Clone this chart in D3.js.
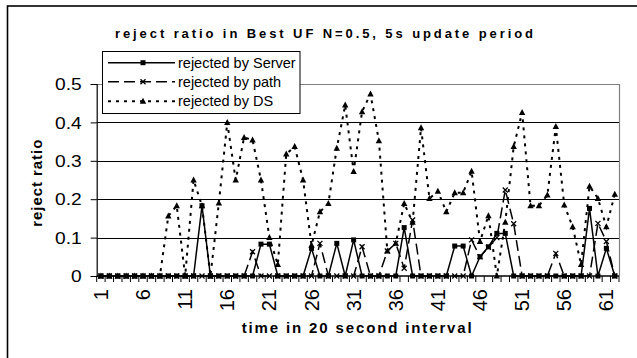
<!DOCTYPE html>
<html>
<head>
<meta charset="utf-8">
<script src="https://cdn.jsdelivr.net/npm/d3@7"></script>
<style>
  html, body { margin: 0; padding: 0; background: #fff; }
  svg { display: block; font-family: "Liberation Sans", Arial, sans-serif; }
</style>
</head>
<body>
<svg id="chart" width="637" height="358"></svg>
<script>
// ---- data ----
const categories = [1,2,3,4,5,6,7,8,9,10,11,12,13,14,15,16,17,18,19,20,21,22,23,24,25,26,27,28,29,30,31,32,33,34,35,36,37,38,39,40,41,42,43,44,45,46,47,48,49,50,51,52,53,54,55,56,57,58,59,60,61,62];
const xTickLabels = [1,6,11,16,21,26,31,36,41,46,51,56,61];
const yTicks = [0, 0.1, 0.2, 0.3, 0.4, 0.5];
const seriesNames = ["rejected by Server", "rejected by path", "rejected by DS"];
const server = [0,0,0,0,0,0,0,0,0,0,0,0,0.183,0,0,0,0,0,0,0.083,0.083,0,0,0,0,0.072,0,0,0.085,0,0.094,0,0,0,0,0,0.126,0,0,0,0,0,0.078,0.078,0,0.05,0.076,0.111,0.111,0,0,0,0,0,0,0,0,0,0.176,0,0.072,0];
const path = [0,0,0,0,0,0,0,0,0,0,0,0,0,0,0,0,0,0,0.063,0,0,0,0,0,0,0,0.085,0,0,0,0,0.076,0,0,0.065,0.085,0.02,0.146,0,0,0,0,0,0,0.094,0.05,0.075,0.10,0.224,0.136,0,0,0,0,0.059,0,0,0,0,0.137,0.09,0];
const ds = [0,0,0,0,0,0,0,0,0.156,0.183,0,0.25,0.183,0,0.19,0.40,0.25,0.361,0.354,0.25,0.10,0.03,0.318,0.337,0.25,0.08,0.167,0.189,0.333,0.445,0.272,0.428,0.474,0.352,0.065,0.085,0.189,0.14,0.386,0.202,0.221,0.167,0.217,0.217,0.273,0.09,0.157,0,0.14,0.337,0.426,0.183,0.183,0.211,0.389,0.185,0.128,0.03,0.234,0.202,0.128,0.213];

const titleText = "reject ratio in Best UF N=0.5, 5s update period";
const xTitle = "time in 20 second interval";
const yTitle = "reject ratio";

// ---- layout ----
const svg = d3.select("#chart");
const plot = { left: 96.7, right: 619, top: 84, bottom: 276 };

const x = d3.scaleBand().domain(categories).range([plot.left, plot.right]).padding(0);
const y = d3.scaleLinear().domain([0, 0.5]).range([plot.bottom, plot.top]);
const cx = d => x(d) + x.bandwidth() / 2;

// outer frame
svg.append("rect").attr("x", 7.5).attr("y", 6).attr("width", 700).attr("height", 400)
  .attr("fill", "#fff").attr("stroke", "#000").attr("stroke-width", 1.6);

// title
svg.append("text").attr("x", 115).attr("y", 38)
  .attr("font-size", 13).attr("font-weight", "bold")
  .attr("textLength", 418).attr("lengthAdjust", "spacing")
  .text(titleText);

// gridlines
svg.append("g").selectAll("line").data(yTicks.filter(t => t > 0 && t < 0.5)).join("line")
  .attr("x1", plot.left).attr("x2", plot.right)
  .attr("y1", d => Math.round(y(d)) + 0.5).attr("y2", d => Math.round(y(d)) + 0.5)
  .attr("stroke", "#000").attr("stroke-width", 1);

// plot border top/right (gray)
svg.append("path")
  .attr("d", `M${plot.left},${plot.top + 0.5}H${plot.right + 0.5}V${plot.bottom}`)
  .attr("fill", "none").attr("stroke", "#808080").attr("stroke-width", 1.2);

// y axis
const yAxis = d3.axisLeft(y).tickValues(yTicks).tickSize(6).tickFormat(d => d === 0 ? "0" : d3.format(".1f")(d));
const gy = svg.append("g").attr("transform", `translate(${plot.left},0)`).call(yAxis);
gy.select(".domain").attr("stroke", "#000").attr("stroke-width", 1.2);
gy.selectAll(".tick line").attr("stroke", "#000");
gy.selectAll(".tick text").remove();
gy.selectAll(".tick").append("text")
  .attr("transform", "translate(-15,5.7) scale(1.2,1)")
  .attr("text-anchor", "end").attr("fill", "#000")
  .attr("font-size", 16).attr("font-family", "Liberation Sans, Arial, sans-serif")
  .text(d => d === 0 ? "0" : d3.format(".1f")(d));

// x axis: ticks between categories
const gx = svg.append("g");
gx.append("line").attr("x1", plot.left).attr("x2", plot.right)
  .attr("y1", plot.bottom).attr("y2", plot.bottom)
  .attr("stroke", "#000").attr("stroke-width", 1.4);
const boundaries = categories.map(c => x(c)).concat([x(categories[categories.length - 1]) + x.bandwidth()]);
gx.selectAll("line.tk").data(boundaries).join("line").attr("class", "tk")
  .attr("x1", d => d).attr("x2", d => d)
  .attr("y1", plot.bottom).attr("y2", plot.bottom + 6)
  .attr("stroke", "#000").attr("stroke-width", 1);
gx.selectAll("text").data(xTickLabels).join("text")
  .attr("transform", d => `translate(${cx(d) + 7},289) rotate(-90)`)
  .attr("text-anchor", "end").attr("font-size", 20)
  .text(d => d);

// axis titles
svg.append("text").attr("x", 241.7).attr("y", 333)
  .attr("font-size", 15).attr("font-weight", "bold")
  .attr("textLength", 230).attr("lengthAdjust", "spacing")
  .text(xTitle);
svg.append("text").attr("transform", "translate(42,226.7) rotate(-90)")
  .attr("font-size", 15).attr("font-weight", "bold")
  .attr("textLength", 87).attr("lengthAdjust", "spacing")
  .text(yTitle);

// series
const styles = [
  { data: server, dash: null, width: 1.5, marker: "square" },
  { data: path, dash: "11,5", width: 1.5, marker: "x" },
  { data: ds, dash: "3,5", width: 2, marker: "triangle" }
];

function drawMarker(g, type, px, py) {
  if (type === "square") {
    g.append("rect").attr("x", px - 2.5).attr("y", py - 2.5).attr("width", 5).attr("height", 5).attr("fill", "#000");
  } else if (type === "triangle") {
    g.append("path").attr("d", `M${px},${py - 3.5}L${px + 3.2},${py + 2.5}L${px - 3.2},${py + 2.5}Z`).attr("fill", "#000");
  } else {
    g.append("path").attr("d", `M${px - 2.5},${py - 2.5}L${px + 2.5},${py + 2.5}M${px - 2.5},${py + 2.5}L${px + 2.5},${py - 2.5}`)
      .attr("stroke", "#000").attr("stroke-width", 1.3);
  }
}

const line = d3.line().x((d, i) => cx(categories[i])).y(d => y(d));
const gs = svg.append("g");
styles.forEach(s => {
  const g = gs.append("g");
  g.append("path").attr("d", line(s.data)).attr("fill", "none")
    .attr("stroke", "#000").attr("stroke-width", s.width)
    .attr("stroke-dasharray", s.dash);
  s.data.forEach((v, i) => drawMarker(g, s.marker, cx(categories[i]), y(v)));
});

// legend
const lg = svg.append("g");
lg.append("rect").attr("x", 102.5).attr("y", 51.5).attr("width", 197.5).attr("height", 62)
  .attr("fill", "#fff").attr("stroke", "#000").attr("stroke-width", 1);
const rows = [62.7, 81.7, 101.2];
styles.forEach((s, i) => {
  lg.append("line").attr("x1", 108).attr("x2", 175).attr("y1", rows[i]).attr("y2", rows[i])
    .attr("stroke", "#000").attr("stroke-width", s.width).attr("stroke-dasharray", s.dash);
  drawMarker(lg, s.marker, 143, rows[i]);
  lg.append("text").attr("x", 178).attr("y", rows[i] + 5).attr("font-size", 14.5).text(seriesNames[i]);
});
</script>
</body>
</html>
